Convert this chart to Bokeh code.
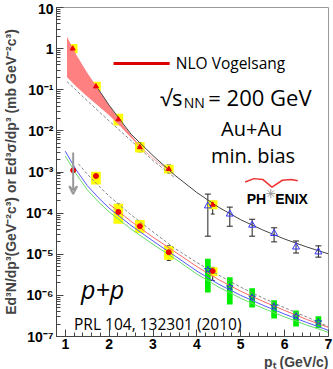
from bokeh.plotting import figure
from bokeh.models import (ColumnDataSource, Whisker, TeeHead, Arrow, VeeHead, Label, Title,
                          SingleIntervalTicker, CustomJSTickFormatter)
from bokeh.embed import file_html
from bokeh.resources import INLINE

# ---------------- data ----------------
# Au+Au min. bias, direct photons (virtual photon method)
auau_pt = [1.17, 1.70, 2.21, 2.70, 3.36, 4.36]
auau_y = [1.0, 0.12, 0.019, 0.0040, 0.00118, 1.6e-4]
auau_lo = [0.85, 0.105, 0.0146, 0.0031, 0.00095, 9.5e-5]
auau_hi = [1.18, 0.137, 0.0245, 0.0052, 0.00148, 1.95e-4]
auau_sys_lo = [0.77, 0.092, 0.0135, 0.0030, 0.00092, 1.25e-4]
auau_sys_hi = [1.30, 0.156, 0.026, 0.0053, 0.00150, 2.05e-4]

# Au+Au, real photons at high pT
auau2_pt = [4.25, 4.75, 5.26, 5.76, 6.26, 6.77]
auau2_y = [1.5e-4, 9.5e-5, 5.1e-5, 3.2e-5, 1.5e-5, 1.14e-5]
auau2_lo = [2.75e-5, 4.8e-5, 2.75e-5, 2.0e-5, 1.07e-5, 8.5e-6]
auau2_hi = [2.9e-4, 1.4e-4, 7.1e-5, 4.4e-5, 2.1e-5, 1.6e-5]

# p+p, virtual photon method
pp_pt = [1.70, 2.21, 2.70, 3.36, 4.36]
pp_y = [8.0e-4, 1.07e-4, 4.8e-5, 1.12e-5, 3.9e-6]
pp_lo = [6.0e-4, 7.1e-5, 3.5e-5, 7.1e-6, 2.3e-6]
pp_hi = [9.3e-4, 1.66e-4, 6.3e-5, 1.6e-5, 4.8e-6]
pp_sys_lo = [5.0e-4, 5.5e-5, 3.3e-5, 7.4e-6, 2.9e-6]
pp_sys_hi = [1.02e-3, 1.7e-4, 6.8e-5, 1.58e-5, 4.8e-6]

# p+p upper limit at lowest pT
pp_ul_pt = [1.18]
pp_ul_y = [1.1e-3]
pp_ul_from = [3.0e-3]
pp_ul_to = [2.9e-4]

# p+p, real photons
pp2_pt = [4.25, 4.75, 5.26, 5.76, 6.26, 6.77]
pp2_y = [4.2e-6, 1.6e-6, 9.0e-7, 5.4e-7, 3.1e-7, 2.25e-7]
pp2_sys_lo = [1.17e-6, 6.0e-7, 5.1e-7, 2.75e-7, 1.74e-7, 1.58e-7]
pp2_sys_hi = [7.8e-6, 2.75e-6, 1.48e-6, 7.6e-7, 4.3e-7, 3.1e-7]
pp2_lo = [3.65e-6, 1.39e-6, 7.8e-7, 4.7e-7, 2.7e-7, 1.96e-7]
pp2_hi = [4.8e-6, 1.84e-6, 1.04e-6, 6.2e-7, 3.6e-7, 2.6e-7]

# NLO Vogelsang band (scaled to Au+Au)
band_pt = [1.04, 1.25, 1.5, 1.75, 2.0, 2.25, 2.5, 2.75, 3.0, 3.25, 3.45]
band_hi = [1.95, 0.71, 0.26, 0.105, 0.042, 0.0174, 0.0079, 0.0038, 0.0022, 0.00138, 0.00095]
band_lo = [0.20, 0.12, 0.069, 0.041, 0.024, 0.0132, 0.0068, 0.0036, 0.0021, 0.00132, 0.00091]

# scaled p+p fit under the band
aa_dash_pt = [1.04, 1.5, 2.0, 2.5, 3.0, 3.5]
aa_dash_y = [0.158, 0.054, 0.0174, 0.0058, 0.0019, 0.00072]

# Au+Au fit
aa_fit_pt = [1.75, 2.0, 2.5, 3.0, 3.5, 4.0, 4.5, 5.0, 5.5, 6.0, 6.5, 7.0]
aa_fit_y = [0.105, 0.042, 0.0083, 0.0025, 8.3e-4, 3.16e-4, 1.38e-4, 6.9e-5, 3.9e-5, 2.34e-5, 1.51e-5, 1.02e-5]

# p+p fits
fit_pt = [1.0, 1.25, 1.5, 1.75, 2.0, 2.5, 3.0, 3.5, 4.0, 4.5, 5.0, 5.5, 6.0, 6.5, 7.0]
fit_blue = [3.2e-3, 1.12e-3, 4.7e-4, 2.4e-4, 1.32e-4, 5.0e-5, 2.1e-5, 9.1e-6, 3.9e-6, 1.86e-6,
            1.0e-6, 5.8e-7, 3.5e-7, 2.2e-7, 1.41e-7]
fit_green = [2.45e-3, 8.9e-4, 3.7e-4, 1.9e-4, 1.07e-4, 4.1e-5, 1.74e-5, 7.8e-6, 3.3e-6, 1.58e-6,
             8.5e-7, 4.9e-7, 3.0e-7, 1.9e-7, 1.26e-7]
fit_red_pt = [2.0, 2.5, 3.0, 3.5, 4.0, 4.5, 5.0, 5.5, 6.0, 6.5, 7.0]
fit_red = [1.66e-4, 6.3e-5, 2.6e-5, 1.15e-5, 5.0e-6, 2.4e-6, 1.26e-6, 7.2e-7, 4.3e-7, 2.6e-7, 1.66e-7]
fit_dash_pt = [1.3, 1.5, 1.75, 2.0, 2.5, 3.0, 3.5, 4.0, 4.5, 5.0, 5.5, 6.0, 6.5, 7.0]
fit_dash = [1.58e-3, 8.9e-4, 4.7e-4, 2.6e-4, 9.1e-5, 3.5e-5, 1.38e-5, 6.3e-6, 3.1e-6, 1.58e-6,
            8.7e-7, 5.0e-7, 3.0e-7, 1.74e-7]

# ---------------- figure ----------------
YBOX = 0.11   # half width of yellow systematic boxes (GeV/c)
GBOX = 0.065  # half width of green systematic boxes (GeV/c)
TXT = "Open Sans"
AX = "Liberation Sans"

p = figure(width=333, height=369, x_range=(0.8, 7.0), y_range=(1e-7, 10),
           y_axis_type="log", output_backend="svg", toolbar_location=None,
           min_border_left=53, min_border_right=5, min_border_top=7, min_border_bottom=2)
p.grid.visible = False
p.outline_line_color = "#999999"
p.background_fill_color = "white"
p.border_fill_color = "white"

# axes
for ax in (p.xaxis[0], p.yaxis[0]):
    ax.major_tick_in = 7
    ax.major_tick_out = 0
    ax.minor_tick_in = 4
    ax.minor_tick_out = 0
    ax.axis_line_color = "#444444"
    ax.major_tick_line_color = "#444444"
    ax.minor_tick_line_color = "#444444"
    ax.major_label_text_font = AX
    ax.major_label_text_font_style = "bold"
    ax.major_label_text_font_size = "14px"
    ax.major_label_text_color = "black"
p.xaxis.ticker = SingleIntervalTicker(interval=1, num_minor_ticks=5)
p.xaxis.major_label_standoff = 2
p.yaxis.major_label_standoff = 3
p.yaxis.formatter = CustomJSTickFormatter(code="""
const e = Math.round(Math.log10(tick));
if (e === 0) return "1";
if (e === 1) return "10";
const sup = {"-":"\u207b","0":"\u2070","1":"\u00b9","2":"\u00b2","3":"\u00b3","4":"\u2074",
             "5":"\u2075","6":"\u2076","7":"\u2077","8":"\u2078","9":"\u2079"};
return "10" + String(e).split("").map(c => sup[c]).join("");
""")
p.yaxis.axis_label = "Ed\u00b3N/dp\u00b3(GeV\u207b\u00b2c\u00b3) or Ed\u00b3\u03c3/dp\u00b3 (mb GeV\u207b\u00b2c\u00b3)"
p.yaxis.axis_label_text_font = AX
p.yaxis.axis_label_text_font_style = "bold"
p.yaxis.axis_label_text_font_size = "14px"
p.yaxis.axis_label_standoff = 4

# x axis title, right aligned under the axis
p.add_layout(Title(text="p\u209c (GeV/c)", align="right", text_font=AX, text_font_style="bold",
                   text_font_size="14px", standoff=0, offset=0), "below")

# systematic boxes
p.quad(left=[x - YBOX for x in auau_pt], right=[x + YBOX for x in auau_pt],
       bottom=auau_sys_lo, top=auau_sys_hi, fill_color="#ffff00", line_color=None)
p.quad(left=[x - YBOX for x in pp_pt], right=[x + YBOX for x in pp_pt],
       bottom=pp_sys_lo, top=pp_sys_hi, fill_color="#ffff00", line_color=None)
p.quad(left=[x - GBOX for x in pp2_pt], right=[x + GBOX for x in pp2_pt],
       bottom=pp2_sys_lo, top=pp2_sys_hi, fill_color="#00ee00", line_color=None)

# NLO band and curves
p.varea(x=band_pt, y1=band_lo, y2=band_hi, fill_color="#ff8080")
p.line(aa_dash_pt, aa_dash_y, line_color="#888888", line_width=1, line_dash="3 2")
p.line(aa_fit_pt, aa_fit_y, line_color="#444444", line_width=1)
p.line(fit_pt, fit_green, line_color="#66dd66", line_width=1)
p.line(fit_pt, fit_blue, line_color="#5555ff", line_width=1)
p.line(fit_red_pt, fit_red, line_color="#ff6666", line_width=1)
p.line(fit_dash_pt, fit_dash, line_color="#888888", line_width=1, line_dash="3 2")

# error bars
def bars(xs, lo, hi, size=4):
    src = ColumnDataSource(dict(x=xs, lo=lo, hi=hi))
    w = Whisker(source=src, base="x", lower="lo", upper="hi", dimension="height",
                line_color="#222222", line_width=1,
                upper_head=TeeHead(size=size, line_color="#222222", line_width=1),
                lower_head=TeeHead(size=size, line_color="#222222", line_width=1))
    p.add_layout(w)

bars(auau_pt, auau_lo, auau_hi)
bars(auau2_pt, auau2_lo, auau2_hi, size=6)
bars(pp_pt, pp_lo, pp_hi)
bars(pp2_pt, pp2_lo, pp2_hi)

# upper limit arrow
p.add_layout(Arrow(end=VeeHead(size=8, line_color="#999999", line_width=2, fill_color=None),
                   x_start=pp_ul_pt[0], y_start=pp_ul_from[0],
                   x_end=pp_ul_pt[0], y_end=pp_ul_to[0],
                   line_color="#999999", line_width=2))

# markers
p.scatter(auau_pt, auau_y, marker="triangle", size=5, fill_color="#ee0000", line_color="#ee0000")
p.scatter(auau2_pt, auau2_y, marker="triangle", size=7, fill_color=None, line_color="#3333ff",
          line_width=1)
p.scatter(pp_pt, pp_y, marker="circle", size=5, fill_color="#ee0000", line_color="#ee0000")
p.scatter(pp_ul_pt, pp_ul_y, marker="circle", size=5, fill_color="#ee0000", line_color="#ee0000")
p.scatter(pp2_pt, pp2_y, marker="star", size=7, fill_color=None, line_color="#2244cc")

# legend key for the NLO band
p.line([2.10, 3.38], [0.435, 0.435], line_color="#dd0000", line_width=3)

# text annotations
def lab(x, y, text, size, align="left", baseline="middle", style="normal", font=TXT, color="black"):
    p.add_layout(Label(x=x, y=y, text=text, text_font=font, text_font_size=size,
                       text_align=align, text_baseline=baseline, text_font_style=style,
                       text_color=color))

lab(3.52, 0.435, "NLO Vogelsang", "15.5px")
lab(3.16, 0.065, "\u221as", "22px")
lab(3.70, 0.049, "NN", "14px")
lab(4.26, 0.065, "= 200 GeV", "22px")
lab(5.25, 0.0112, "Au+Au", "20px", align="center")
lab(5.28, 0.0025, "min. bias", "20px", align="center")
lab(1.36, 1.45e-6, "p+p", "25px", baseline="alphabetic", style="italic")
lab(1.20, 2.0e-7, "PRL 104, 132301 (2010)", "15.5px", baseline="alphabetic")

# PHENIX logo
lab(5.135, 2.24e-4, "PH", "14px", baseline="alphabetic", style="bold", font=AX)
lab(5.787, 2.24e-4, "ENIX", "14px", baseline="alphabetic", style="bold", font=AX)
p.scatter([5.685], [2.98e-4], marker="asterisk", size=9, line_color="#999999", line_width=1)
p.line([5.10, 5.30, 5.50, 5.71, 5.95, 6.15, 6.30], [5.7e-4, 6.9e-4, 6.6e-4, 4.3e-4, 6.3e-4, 6.6e-4, 6.1e-4],
       line_color="#ee3333", line_width=1.5)

open("out.html", "w").write(file_html(p, INLINE))
